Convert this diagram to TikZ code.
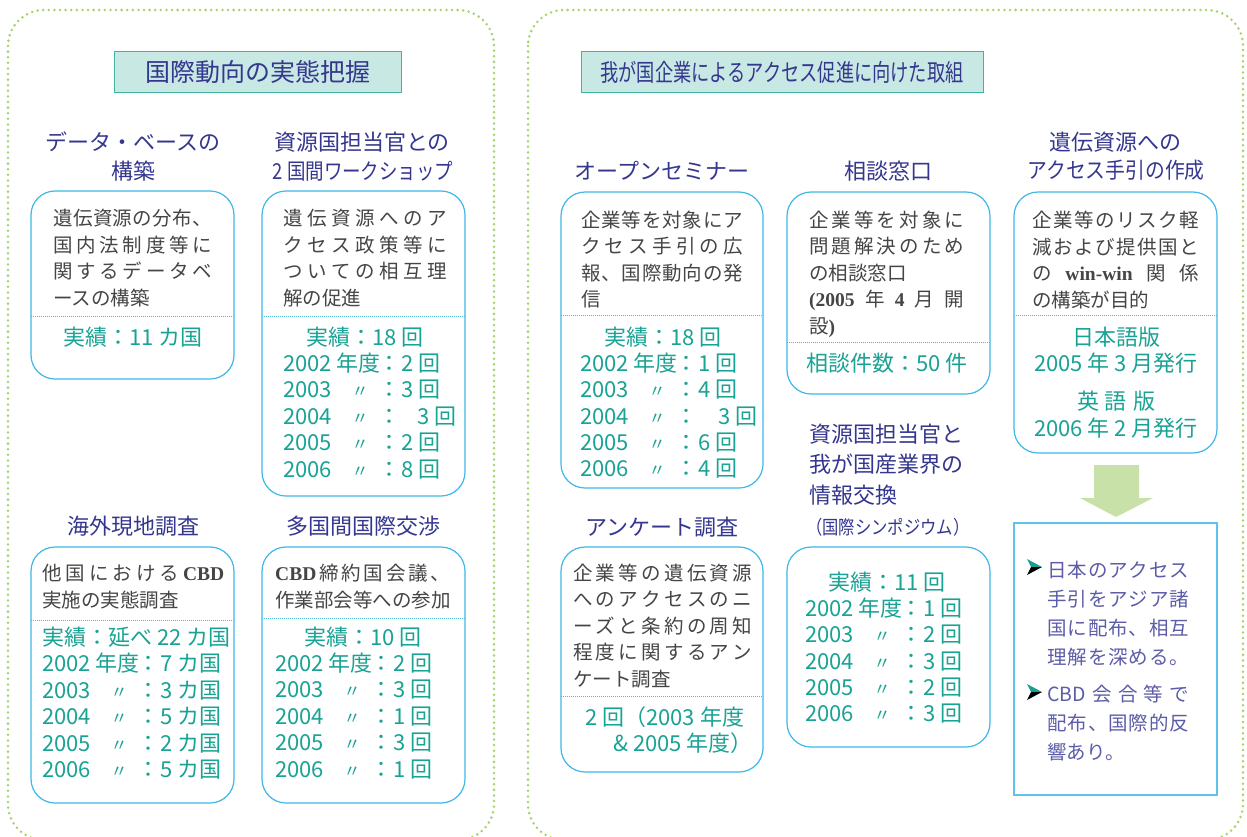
\documentclass[tikz,border=0pt]{standalone}
\usepackage{fontspec}
\usepackage{graphicx}
\newfontfamily\jp{Noto Sans CJK JP}
\newfontfamily\lat{Liberation Serif}
\definecolor{hblue}{HTML}{35378F}
\definecolor{resteal}{HTML}{19A394}
\definecolor{bodygray}{HTML}{454545}
\definecolor{boxblue}{HTML}{40B8E8}
\definecolor{divblue}{HTML}{4FB8D8}
\definecolor{titlefill}{HTML}{C8E8E4}
\definecolor{titledraw}{HTML}{3FB5A5}
\definecolor{outergreen}{HTML}{A8D26A}
\definecolor{arrowgreen}{HTML}{C8E1A8}
\definecolor{notepurple}{HTML}{5C5CA8}
\definecolor{bulletteal}{HTML}{1AA090}
\ExplSyntaxOn
\cs_new:Npn \jlmap #1 { \tl_map_inline:nn {#1} { ##1 \hfil } \unskip }
\ExplSyntaxOff
\newcommand\jl[2]{\makebox[#1pt][s]{\jlmap{#2}}}
\newcommand\dto{{\fontsize{17}{17}\selectfont 〃}}
\newcommand\fir[2]{\makebox[94pt][l]{#1}\makebox[24pt][c]{：}#2}
\newcommand\dit[2]{\makebox[60pt][l]{#1}\makebox[34pt][c]{\dto}\makebox[24pt][c]{：}#2}
\newcommand\Lines[6]{\foreach \ltxt [count=\i] in {#6}{\node[#2] (#1\i) at (#3,{#4+(\i-1)*#5}) {\ltxt};}}
\newcommand\la[1]{{\lat\bfseries #1}}
\begin{document}
\begin{tikzpicture}[x=1pt,y=-1pt,
 outer/.style={draw=outergreen, line width=2.8pt, dash pattern=on 0pt off 5.6pt, line cap=round, rounded corners=36pt},
 box/.style={draw=boxblue, line width=1.2pt, rounded corners=24pt},
 divider/.style={draw=divblue, line width=0.9pt, dash pattern=on 0.9pt off 1.1pt},
 body/.style={font=\jp\fontsize{19.5}{22}\selectfont, text=bodygray, inner sep=0pt, anchor=west, text height=17.2pt, text depth=2.3pt},
 res/.style={font=\jp\fontsize{22}{26}\selectfont, text=resteal, inner sep=0pt, text height=19.4pt, text depth=2.6pt},
 resl/.style={res, anchor=west},
 head/.style={font=\jp\fontsize{22}{26}\selectfont, text=hblue, inner sep=0pt, text height=19.4pt, text depth=2.6pt},
 headl/.style={head, anchor=west},
 title/.style={draw=titledraw, line width=1pt, fill=titlefill, text=hblue, font=\jp\fontsize{25}{28}\selectfont, minimum height=41pt, inner sep=0pt, text height=22pt, text depth=3pt},
 note/.style={font=\jp\fontsize{19.5}{22}\selectfont, text=notepurple, inner sep=0pt, anchor=west, text height=17.2pt, text depth=2.3pt},
]
\useasboundingbox (0,0) rectangle (1247,836);
\fill[white] (0,0) rectangle (1247,836);
% outer panels
\draw[outer] (8,10) rectangle (494,840);
\draw[outer] (528,10) rectangle (1243,840);
% titles
\node[title, minimum width=287pt] (t1) at (257.5,71.5) {国際動向の実態把握};
\node[title, minimum width=402pt] (t2) at (782,71.5) {\fontsize{24}{28}\selectfont\scalebox{0.76}[1]{我が国企業によるアクセス促進に向けた取組}};
% ---- left panel ----
\node[head] (h1a) at (133,142) {データ・ベースの};
\node[head] (h1b) at (133,171) {構築};
\node[head] (h2a) at (362,142) {資源国担当官との};
\node[head] (h2b) at (363,171) {\scalebox{0.84}[1]{2 国間ワークショップ}};
% box 1
\draw[box] (31,191) rectangle (234,379);
\draw[divider] (31,316) -- (234,316);
\Lines{bA}{body}{53}{218}{26.6}{\jl{159}{遺伝資源の分布、},\jl{159}{国内法制度等に},\jl{159}{関するデータベ},ースの構築}
\node[res] (rA) at (133,337) {実績：11 カ国};
% box 2
\draw[box] (262,191) rectangle (465,496);
\draw[divider] (262,316) -- (465,316);
\Lines{bB}{body}{283}{218}{26.6}{\jl{164}{遺伝資源へのア},\jl{164}{クセス政策等に},\jl{164}{ついての相互理},解の促進}
\node[res] (rB) at (365,337) {実績：18 回};
\Lines{rB}{resl}{283}{363}{26.4}{\fir{2002 年度}{2 回},\dit{2003}{3 回},\dit{2004}{\hspace{16pt}3 回},\dit{2005}{2 回},\dit{2006}{8 回}}
% box 3
\node[head] (h3) at (133,526) {海外現地調査};
\draw[box] (31,547) rectangle (234,803);
\draw[divider] (31,620) -- (234,620);
\Lines{bC}{body}{42}{573}{26.6}{\jl{182}{他国における{\la{CBD}}},実施の実態調査}
\Lines{rC}{resl}{42}{637}{26.5}{実績：延べ 22 カ国,\fir{2002 年度}{7 カ国},\dit{2003}{3 カ国},\dit{2004}{5 カ国},\dit{2005}{2 カ国},\dit{2006}{5 カ国}}
% box 4
\node[head] (h4) at (363,526) {多国間国際交渉};
\draw[box] (262,547) rectangle (465,803);
\draw[divider] (262,618) -- (465,618);
\Lines{bD}{body}{275}{573}{26.6}{\jl{175}{{\la{CBD}}締約国会議、},作業部会等への参加}
\node[res] (rD) at (363,637) {実績：10 回};
\Lines{rD}{resl}{275}{663}{26.5}{\fir{2002 年度}{2 回},\dit{2003}{3 回},\dit{2004}{1 回},\dit{2005}{3 回},\dit{2006}{1 回}}
% ---- right panel ----
\node[head] (h5) at (662,171) {オープンセミナー};
\node[head] (h6) at (888,171) {相談窓口};
\node[head] (h9a) at (1115,142) {遺伝資源への};
\node[head] (h9b) at (1116,170) {\scalebox{0.9}[1]{アクセス手引の作成}};
% box 5
\draw[box] (561,192) rectangle (763,488);
\draw[divider] (561,315) -- (763,315);
\Lines{bE}{body}{581}{220}{26.4}{\jl{162}{企業等を対象にア},\jl{162}{クセス手引の広},\jl{162}{報、国際動向の発},信}
\node[res] (rE) at (663,337) {実績：18 回};
\Lines{rE}{resl}{580}{363}{26.3}{\fir{2002 年度}{1 回},\dit{2003}{4 回},\dit{2004}{\hspace{20pt}3 回},\dit{2005}{6 回},\dit{2006}{4 回}}
% box 6
\draw[box] (787,192) rectangle (990,394);
\draw[divider] (787,342) -- (990,342);
\Lines{bF}{body}{809}{220}{26.4}{\jl{155}{企業等を対象に},\jl{155}{問題解決のため},の相談窓口,\jl{155}{{\la{(2005}}年{\la{4}}月開},設\la{)}}
\node[res] (rF) at (887,363) {相談件数：50 件};
% symposium
\Lines{h7}{headl}{809}{434}{30.5}{資源国担当官と,我が国産業界の,情報交換}
\node[headl, font=\jp\fontsize{19}{22}\selectfont] (h7s) at (806,526) {\scalebox{0.86}[1]{（国際シンポジウム）}};
\draw[box] (787,547) rectangle (990,747);
\node[res] (rG) at (887,582) {実績：11 回};
\Lines{rG}{resl}{805}{608}{26.3}{\fir{2002 年度}{1 回},\dit{2003}{2 回},\dit{2004}{3 回},\dit{2005}{2 回},\dit{2006}{3 回}}
% box 8
\node[head] (h8) at (662,527) {アンケート調査};
\draw[box] (561,547) rectangle (763,772);
\draw[divider] (561,696) -- (763,696);
\Lines{bH}{body}{573}{573}{26.5}{\jl{179}{企業等の遺伝資源},\jl{179}{へのアクセスのニ},\jl{179}{ーズと条約の周知},\jl{179}{程度に関するアン},ケート調査}
\node[resl] (rH1) at (585,717) {2 回（2003 年度};
\node[resl] (rH2) at (613,743) {\&\ 2005 年度）};
% box 9
\draw[box] (1014,192) rectangle (1217,453);
\draw[divider] (1014,315) -- (1217,315);
\Lines{bI}{body}{1032}{220}{26.6}{\jl{167}{企業等のリスク軽},\jl{167}{減および提供国と},\jl{167}{の{\la{win-win}}関係},の構築が目的}
\node[res] (rI1) at (1116,337) {日本語版};
\node[res] (rI2) at (1116,363) {2005 年 3 月発行};
\node[res] (rI3) at (1116,401) {\jl{78}{英語版}};
\node[res] (rI4) at (1116,428) {2006 年 2 月発行};
% arrow
\fill[arrowgreen] (1094,465) -- (1139,465) -- (1139,498) -- (1153,498) -- (1116,517) -- (1080,498) -- (1094,498) -- cycle;
% box 10
\draw[draw=boxblue!85, line width=1.2pt] (1014,523) rectangle (1217,795);
\foreach \by in {567,692}{
  \fill[bulletteal] (1027,\by-8) -- (1042,\by) -- (1031,\by) -- cycle;
  \fill[black] (1031,\by) -- (1042,\by) -- (1027,\by+8) -- cycle;
}
\Lines{nA}{note}{1047}{570}{29}{\jl{142}{日本のアクセス},\jl{142}{手引をアジア諸},\jl{142}{国に配布、相互},\jl{142}{理解を深める。}}
\Lines{nB}{note}{1047}{694}{29}{\jl{142}{{CBD}会合等で},\jl{142}{配布、国際的反},響あり。}
\end{tikzpicture}
\end{document}
